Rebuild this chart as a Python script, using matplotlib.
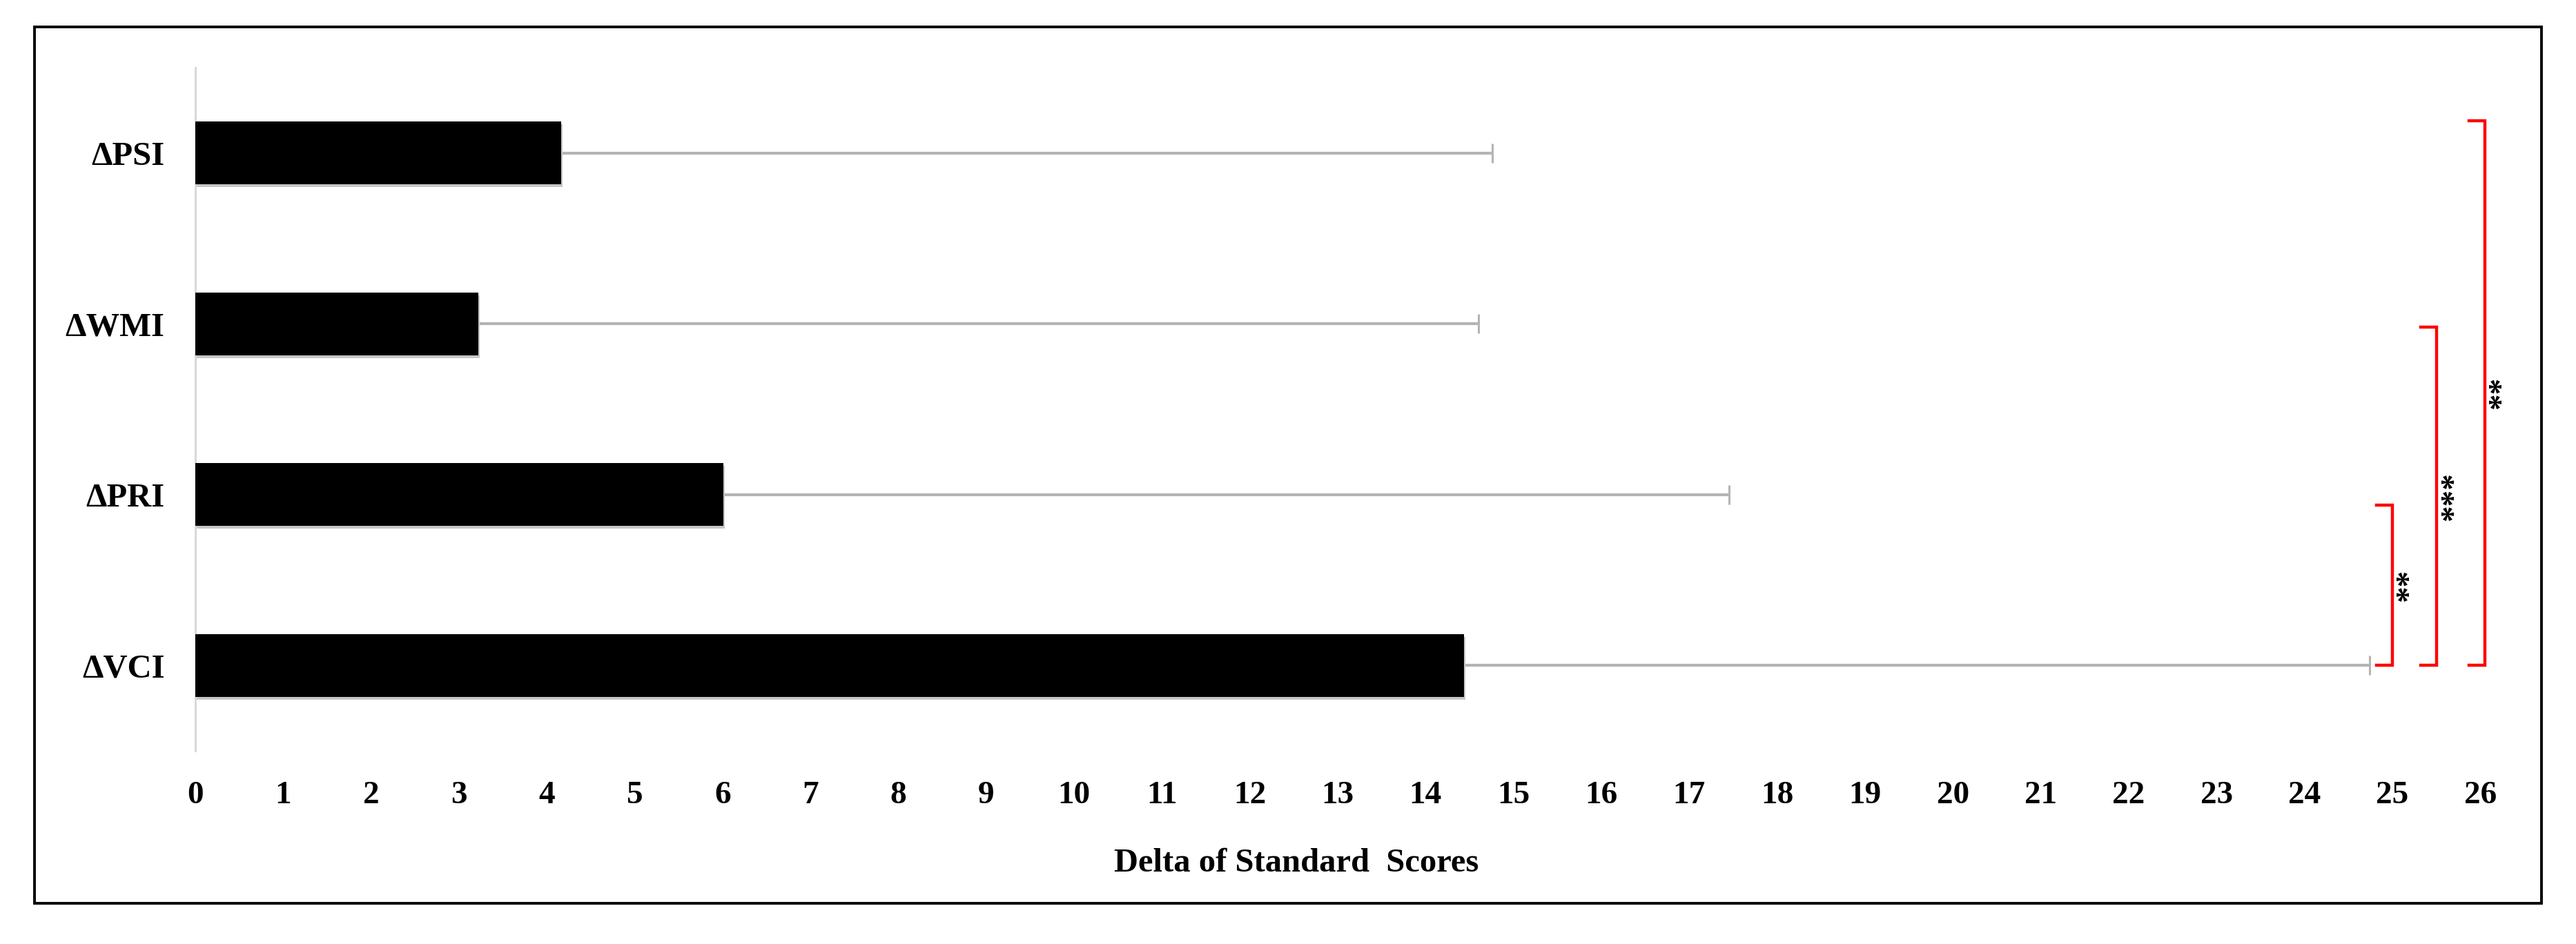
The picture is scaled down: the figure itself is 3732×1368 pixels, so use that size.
import matplotlib
matplotlib.use("Agg")
import matplotlib.pyplot as plt
import matplotlib.patheffects as pe
from matplotlib.patches import Rectangle

# data (bottom to top)
labels = ["\u0394VCI", "\u0394PRI", "\u0394WMI", "\u0394PSI"]
means = [14.44, 6.01, 3.22, 4.16]
errs = [10.3, 11.44, 11.38, 10.6]
x_ticks = list(range(0, 27))

# significance brackets: all start at VCI
sig_marks = ["**", "***", "**"]
sig_from = [0, 0, 0]
sig_to = [0.94, 1.98, 3.19]

plt.rcParams["font.family"] = ["Liberation Serif", "DejaVu Serif"]
plt.rcParams["font.weight"] = "bold"

fig = plt.figure(figsize=(37.32, 13.68), dpi=100)
ax = fig.add_axes([0.0758, 0.2047, 0.8870, 0.7237])

y = list(range(len(labels)))
bars = ax.barh(y, means, height=0.367, color="black", zorder=3)
for b in bars:
    b.set_path_effects([pe.SimplePatchShadow(offset=(1.5, -3), shadow_rgbFace="0.78", alpha=1.0),
                        pe.Normal()])

ax.errorbar(means, y, xerr=[[0] * len(errs), errs], fmt="none",
            ecolor="#b4b4b4", elinewidth=3, capsize=10, capthick=2.2, zorder=2)

ax.set_xlim(0, 26)
ax.set_ylim(-0.5, 3.5)
ax.set_xticks(x_ticks)
ax.set_xticklabels([str(t) for t in x_ticks], fontsize=34, fontweight="bold")
ax.set_yticks(y)
ax.set_yticklabels(labels, fontsize=35, fontweight="bold")
ax.tick_params(axis="x", length=0, pad=32)
ax.tick_params(axis="y", length=0, pad=32)

for s in ["top", "right", "bottom"]:
    ax.spines[s].set_visible(False)
ax.spines["left"].set_color("#d9d9d9")
ax.spines["left"].set_linewidth(2.2)

ax.set_xlabel("Delta of Standard  Scores", fontsize=35, fontweight="bold", labelpad=30)
ax.xaxis.set_label_coords(0.482, -0.142)

# brackets
bx = [25.0, 25.5, 26.05]
tick_len = 0.18
star_dx = [0.2, 0.21, 0.2]
for i, mark in enumerate(sig_marks):
    y0, y1 = sig_from[i], sig_to[i]
    ax.plot([bx[i] - tick_len, bx[i], bx[i], bx[i] - tick_len], [y0, y0, y1, y1],
            color="#ff0000", lw=3.2, clip_on=False, solid_joinstyle="miter", zorder=4)
    ax.text(bx[i] + star_dx[i], (y0 + y1) / 2, mark, rotation=90, ha="center", va="center",
            fontsize=34, fontweight="bold", clip_on=False)

# outer frame
fig.patches.append(Rectangle((0.0134, 0.0431), 0.9732, 0.9284, transform=fig.transFigure,
                             fill=False, edgecolor="black", linewidth=2.8))

fig.savefig("out.png", dpi=100)
